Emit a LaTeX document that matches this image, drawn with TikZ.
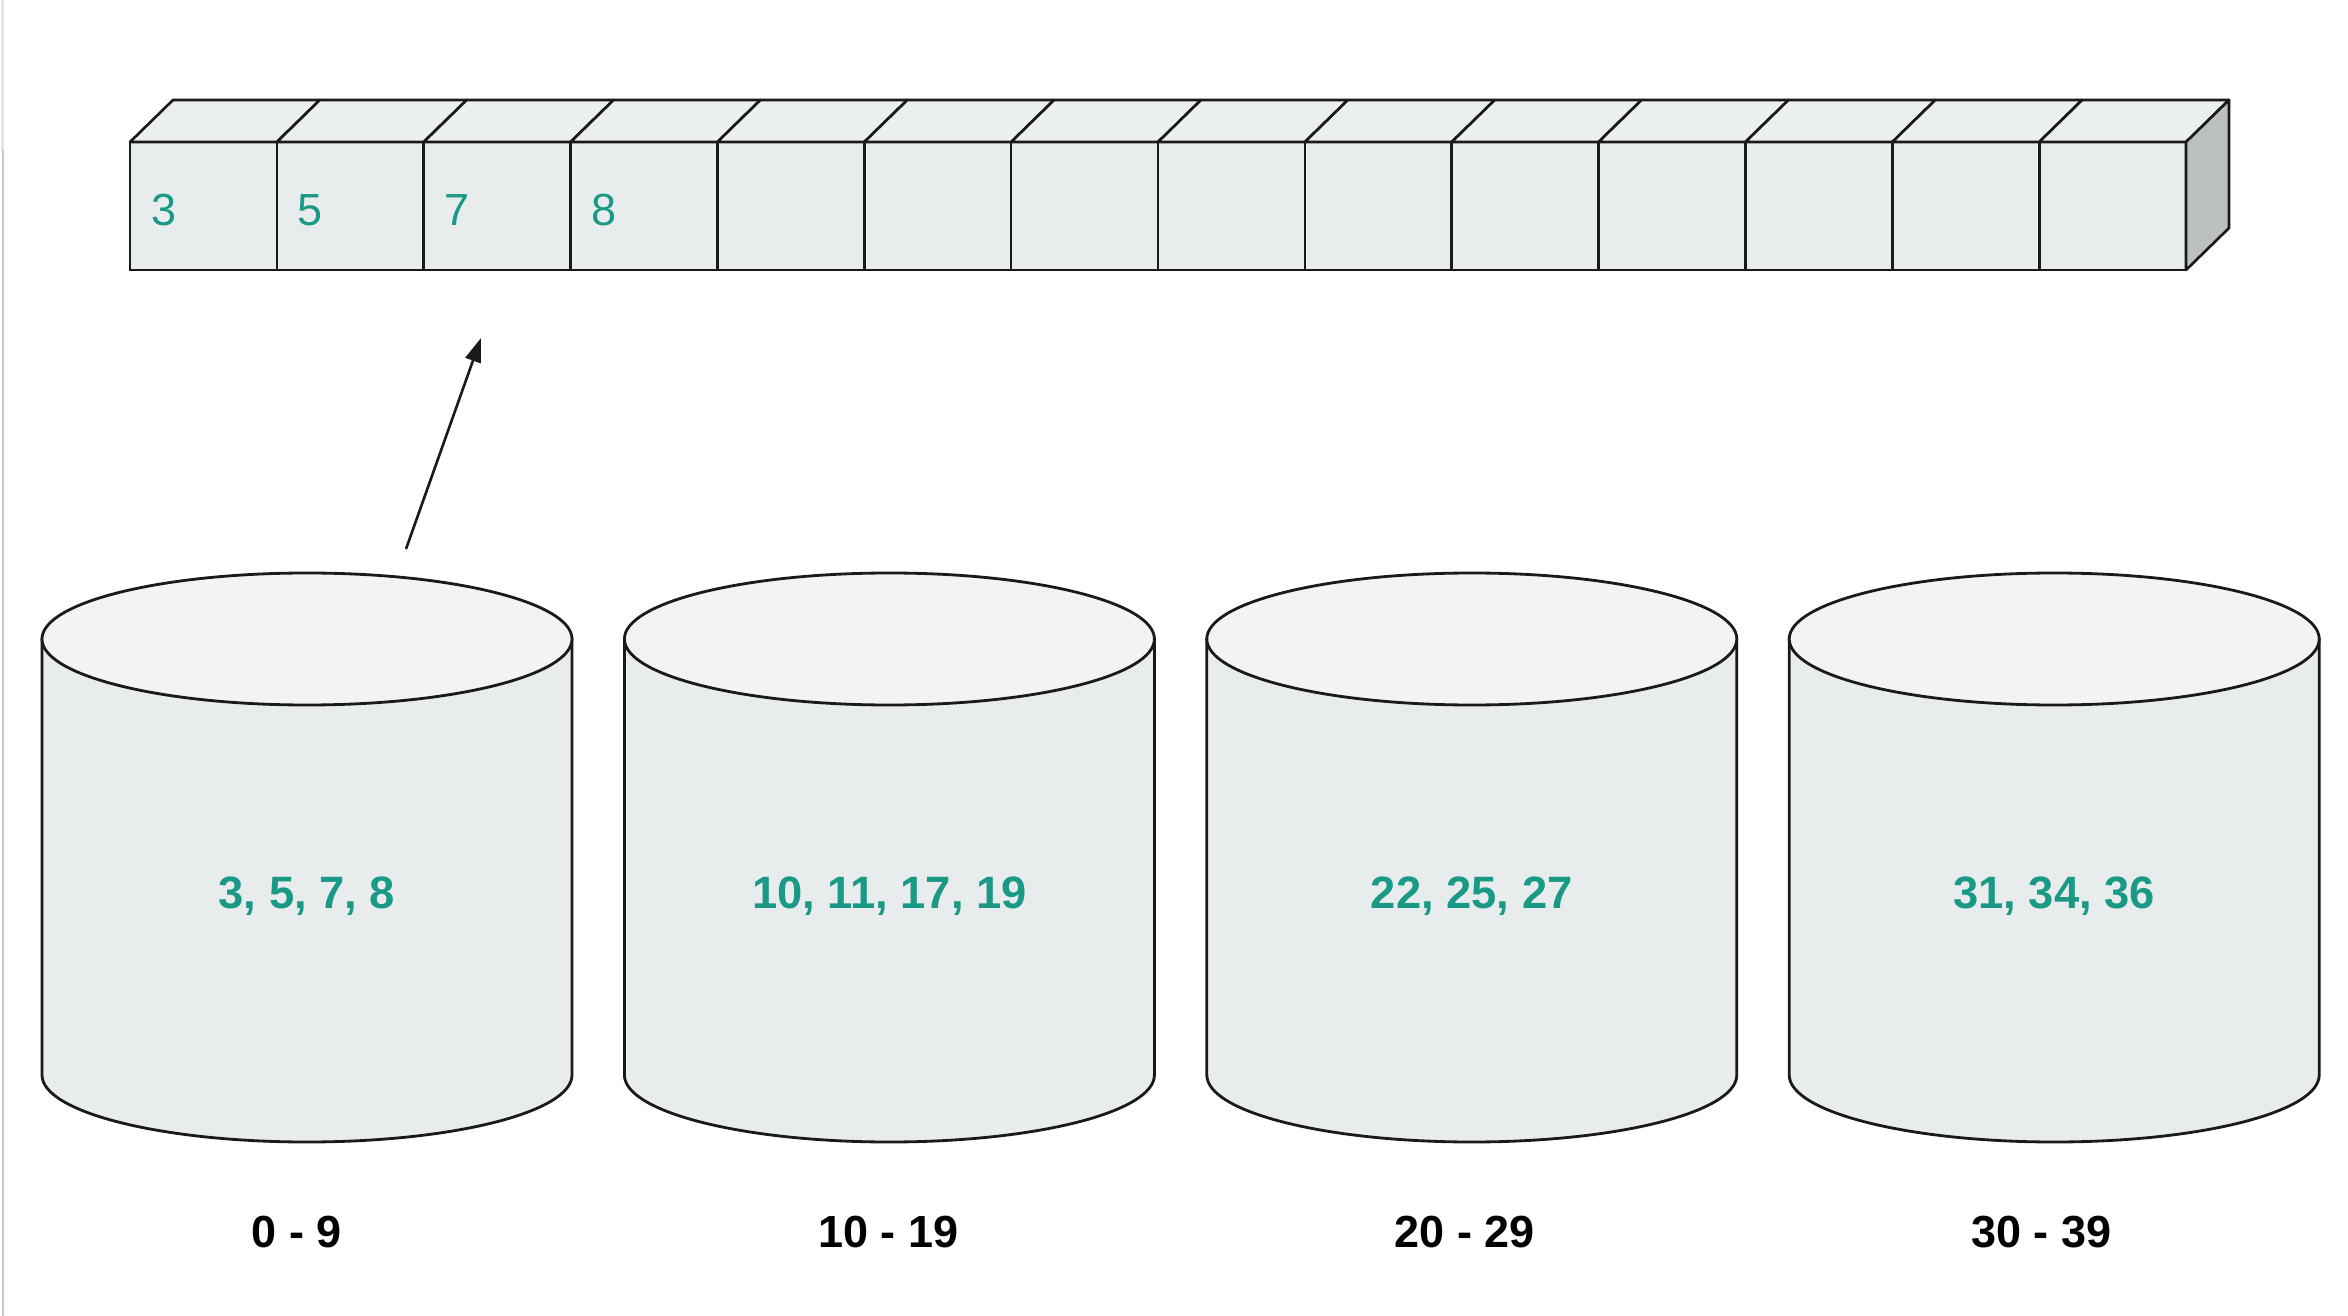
\documentclass[tikz,border=0pt]{standalone}
\usepackage{fontspec}
\setmainfont{Liberation Sans}
\usetikzlibrary{arrows.meta}
\usetikzlibrary{positioning}

\definecolor{numteal}{RGB}{26,154,134}
\definecolor{slotfront}{RGB}{232,236,236}
\definecolor{slottop}{RGB}{236,239,240}
\definecolor{slotside}{RGB}{188,192,192}
\definecolor{cylbody}{RGB}{232,236,236}
\definecolor{cyltop}{RGB}{242,243,244}
\definecolor{lineblk}{RGB}{26,26,26}

\begin{document}
\begin{tikzpicture}[x=0.1mm, y=-0.1mm,
  slot/.style={draw=lineblk, line width=0.75pt, fill=slotfront, outer sep=0pt,
    minimum height=12.8mm, text width=10.486mm, inner xsep=2.1mm, align=left,
    text height=10.9pt, text depth=0pt,
    font=\fontsize{12.8}{15}\selectfont, text=numteal},
  slotface/.style={draw=lineblk, line width=0.75pt, line join=round},
  cyl/.style={draw=lineblk, line width=0.8pt},
  cylval/.style={font=\fontsize{12.9}{15}\selectfont\bfseries, text=numteal},
  rangelabel/.style={font=\fontsize{12.8}{15}\selectfont\bfseries},
  ptrarrow/.style={draw=lineblk, line width=0.75pt, -{Triangle[length=2.4mm, width=1.6mm]}}]

  \useasboundingbox (0,0) rectangle (2348,1316);
  \draw[gray!20, line width=0.3mm] (2,0) -- (2,150);
  \draw[gray!45, line width=0.3mm] (3,150) -- (3,1316);

  % array of slots
  \node[slot] (c1) at (203.43,206) {3};
  \foreach \v [count=\i from 2] in {5,7,8,{},{},{},{},{},{},{},{},{},{}} {
    \pgfmathtruncatemacro\j{\i-1}
    \node[slot, right=0pt of c\j] (c\i) {\v};
  }
  \foreach \i in {1,...,14}
    \draw[slotface, fill=slottop] (c\i.north west) -- ++(43,-42)
      -- ([shift={(43,-42)}]c\i.north east) -- (c\i.north east) -- cycle;
  \draw[slotface, fill=slotside] (c14.north east) -- ++(43,-42) -- ++(0,128)
    -- (c14.south east) -- cycle;

  % buckets
  \foreach \cx/\vals/\lbl/\dx [count=\i] in {307/{3, 5, 7, 8}/0 - 9/-10,
      889.4/{10, 11, 17, 19}/10 - 19/-1, 1471.8/{22, 25, 27}/20 - 29/-7,
      2054.2/{31, 34, 36}/30 - 39/-13} {
    \draw[cyl, fill=cylbody] (\cx-265,639) -- (\cx-265,1075)
      arc[start angle=180, end angle=0, x radius=265, y radius=67]
      -- (\cx+265,639) -- cycle;
    \draw[cyl, fill=cyltop] (\cx,639) ellipse[x radius=265, y radius=66];
    \node[cylval] (v\i) at (\cx,896) {\vals};
    \node[rangelabel] (r\i) at (\cx+\dx,1232) {\lbl};
  }

  \coordinate (atail) at (406,549);
  \coordinate (atip) at (481,338);
  \draw[ptrarrow] (atail) -- (atip);
\end{tikzpicture}
\end{document}
